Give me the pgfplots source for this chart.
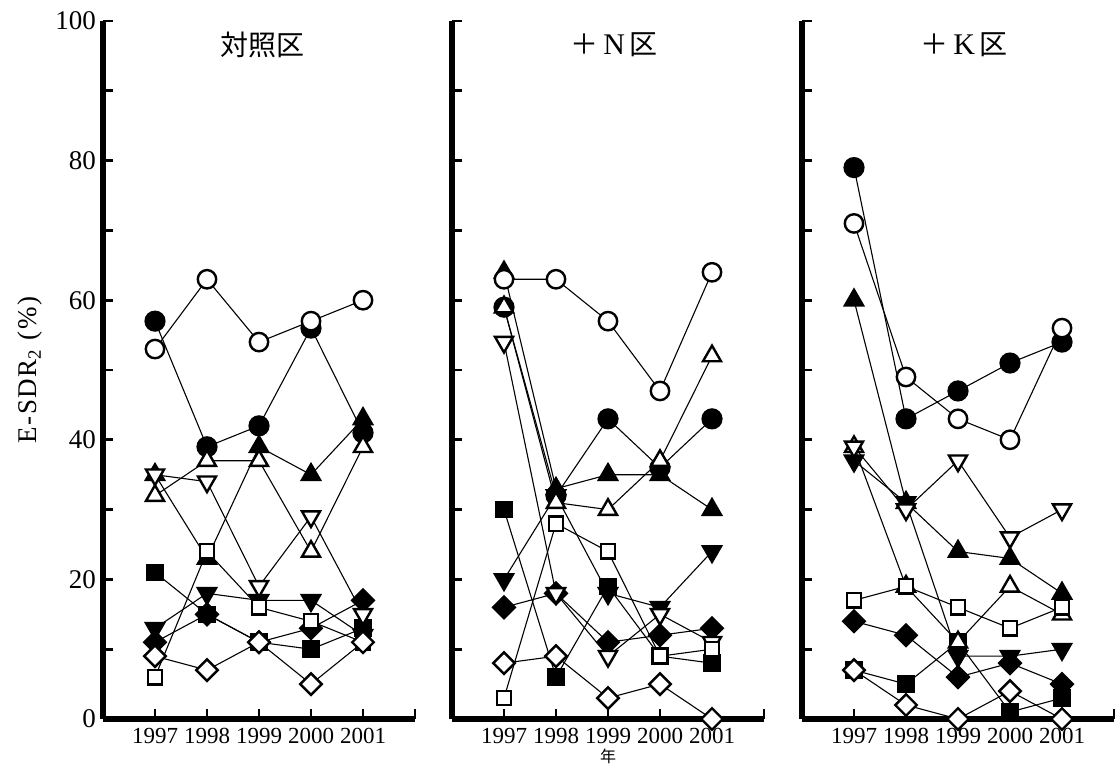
\documentclass[border=0pt]{standalone}
\usepackage{pgfplots}
\pgfplotsset{compat=1.18}
\usepackage{fontspec}
\setmainfont{Liberation Serif}
\newfontfamily\cjk{Noto Sans CJK JP}

\pgfplotsset{
 fc/.style={black, line width=0.55pt, mark=*, mark size=4.8pt, mark options={solid, line width=1pt, fill=black}},
 oc/.style={black, line width=0.55pt, mark=*, mark size=4.6pt, mark options={solid, line width=1.2pt, fill=white}},
 ft/.style={black, line width=0.55pt, mark=triangle*, mark size=5.4pt, mark options={solid, line width=1pt, fill=black}},
 ot/.style={black, line width=0.55pt, mark=triangle*, mark size=5.2pt, mark options={solid, line width=1.2pt, fill=white}},
 fdt/.style={black, line width=0.55pt, mark=triangle*, mark size=5.4pt, mark options={solid, line width=1pt, fill=black, rotate=180}},
 odt/.style={black, line width=0.55pt, mark=triangle*, mark size=5.2pt, mark options={solid, line width=1.2pt, fill=white, rotate=180}},
 fs/.style={black, line width=0.55pt, mark=square*, mark size=3.9pt, mark options={solid, line width=1pt, fill=black}},
 os/.style={black, line width=0.55pt, mark=square*, mark size=3.6pt, mark options={solid, line width=1.2pt, fill=white}},
 fd/.style={black, line width=0.55pt, mark=square*, mark size=3.9pt, mark options={solid, line width=1pt, fill=black, rotate=45}},
 od/.style={black, line width=0.55pt, mark=square*, mark size=3.8pt, mark options={solid, line width=1.2pt, fill=white, rotate=45}},
 panel/.style={
  scale only axis, width=156pt, height=349pt,
  xmin=1996, xmax=2002, ymin=0, ymax=100,
  axis x line=bottom, axis y line=left,
  axis line style={line width=2.6pt, -},
  xtick={1997,1998,1999,2000,2001,2002},
  xticklabels={1997,1998,1999,2000,2001,{}},
  ytick={0,10,20,30,40,50,60,70,80,90,100},
  tick align=inside, major tick length=4.8pt,
  tick style={black, line width=1.4pt},
  xticklabel style={font=\fontsize{11.5}{12}\selectfont, yshift=-1pt},
  yticklabel style={font=\fontsize{13.5}{14}\selectfont},
  clip=false, anchor=south west,
 },
}

\begin{document}
\begin{tikzpicture}
\path[use as bounding box] (0,0) rectangle (557.5pt,-385.5pt);

% Panel 1
\begin{axis}[panel, at={(51.5pt,-359.5pt)}, yticklabels={0,,20,,40,,60,,80,,100}]
\addplot[fc] coordinates {(1997,57) (1998,39) (1999,42) (2000,56) (2001,41)};
\addplot[ft] coordinates {(1997,35) (1998,23) (1999,39) (2000,35) (2001,43)};
\addplot[fdt] coordinates {(1997,13) (1998,18) (1999,17) (2000,17) (2001,12)};
\addplot[fs] coordinates {(1997,21) (1998,15) (1999,11) (2000,10) (2001,13)};
\addplot[fd] coordinates {(1997,11) (1998,15) (1999,11) (2000,13) (2001,17)};
\addplot[oc] coordinates {(1997,53) (1998,63) (1999,54) (2000,57) (2001,60)};
\addplot[ot] coordinates {(1997,32) (1998,37) (1999,37) (2000,24) (2001,39)};
\addplot[odt] coordinates {(1997,35) (1998,34) (1999,19) (2000,29) (2001,15)};
\addplot[os] coordinates {(1997,6) (1998,24) (1999,16) (2000,14) (2001,11)};
\addplot[od] coordinates {(1997,9) (1998,7) (1999,11) (2000,5) (2001,11)};
\node[font=\fontsize{14}{14}\selectfont\cjk] at (rel axis cs:0.51,0.966) {対照区};
\node[rotate=90, font=\fontsize{13.5}{14}\selectfont\addfontfeature{LetterSpace=6}] at (rel axis cs:-0.234,0.5) {E-SDR\textsubscript{2} (\%)};
\end{axis}

% Panel 2
\begin{axis}[panel, at={(226pt,-359.5pt)}, yticklabels={}]
\addplot[fc] coordinates {(1997,59) (1998,32) (1999,43) (2000,36) (2001,43)};
\addplot[ft] coordinates {(1997,64) (1998,33) (1999,35) (2000,35) (2001,30)};
\addplot[fdt] coordinates {(1997,20) (1998,32) (1999,18) (2000,16) (2001,24)};
\addplot[fs] coordinates {(1997,30) (1998,6) (1999,19) (2000,9) (2001,8)};
\addplot[fd] coordinates {(1997,16) (1998,18) (1999,11) (2000,12) (2001,13)};
\addplot[oc] coordinates {(1997,63) (1998,63) (1999,57) (2000,47) (2001,64)};
\addplot[ot] coordinates {(1997,59) (1998,31) (1999,30) (2000,37) (2001,52)};
\addplot[odt] coordinates {(1997,54) (1998,18) (1999,9) (2000,15) (2001,11)};
\addplot[os] coordinates {(1997,3) (1998,28) (1999,24) (2000,9) (2001,10)};
\addplot[od] coordinates {(1997,8) (1998,9) (1999,3) (2000,5) (2001,0)};
\node[font=\fontsize{14}{14}\selectfont] at (rel axis cs:0.52,0.966) {{\cjk ＋}\,{\fontsize{15}{15}\selectfont N}\,{\cjk 区}};
\node[font=\fontsize{8}{8}\selectfont\cjk] at (rel axis cs:0.5,-0.054) {年};
\end{axis}

% Panel 3
\begin{axis}[panel, at={(401pt,-359.5pt)}, yticklabels={}]
\addplot[fc] coordinates {(1997,79) (1998,43) (1999,47) (2000,51) (2001,54)};
\addplot[ft] coordinates {(1997,60) (1998,31) (1999,24) (2000,23) (2001,18)};
\addplot[fdt] coordinates {(1997,37) (1998,31) (1999,9) (2000,9) (2001,10)};
\addplot[fs] coordinates {(1997,7) (1998,5) (1999,11) (2000,1) (2001,3)};
\addplot[fd] coordinates {(1997,14) (1998,12) (1999,6) (2000,8) (2001,5)};
\addplot[oc] coordinates {(1997,71) (1998,49) (1999,43) (2000,40) (2001,56)};
\addplot[ot] coordinates {(1997,39) (1998,19) (1999,11) (2000,19) (2001,15)};
\addplot[odt] coordinates {(1997,39) (1998,30) (1999,37) (2000,26) (2001,30)};
\addplot[os] coordinates {(1997,17) (1998,19) (1999,16) (2000,13) (2001,16)};
\addplot[od] coordinates {(1997,7) (1998,2) (1999,0) (2000,4) (2001,0)};
\node[font=\fontsize{14}{14}\selectfont] at (rel axis cs:0.52,0.966) {{\cjk ＋}\,{\fontsize{15}{15}\selectfont K}\,{\cjk 区}};
\end{axis}
\end{tikzpicture}
\end{document}
